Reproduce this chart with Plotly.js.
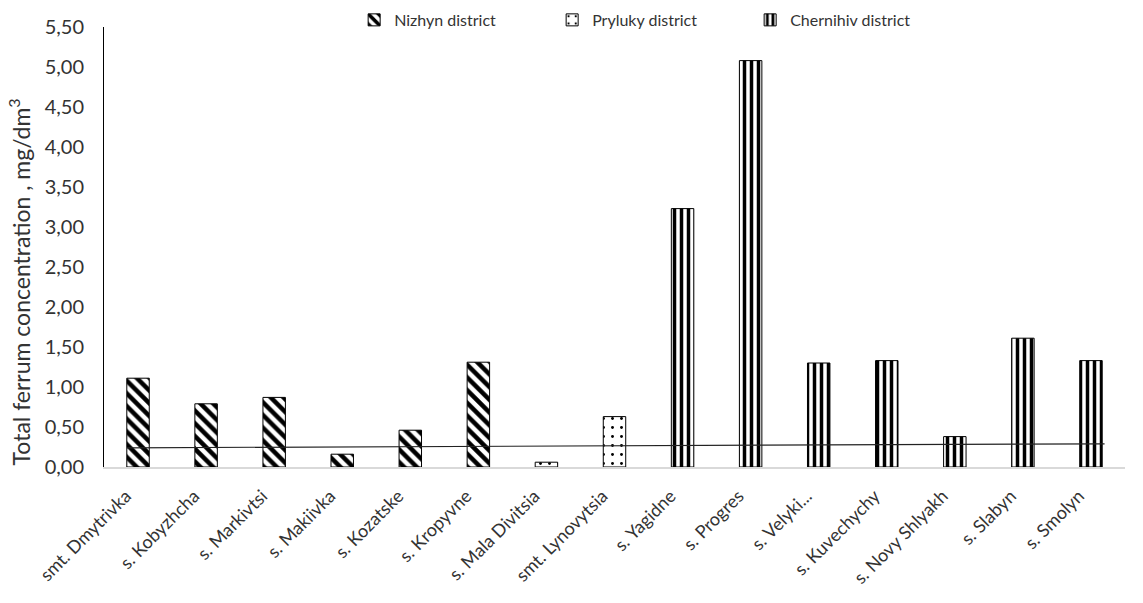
<!DOCTYPE html>
<html>
<head>
<meta charset="utf-8">
<script src="https://cdn.plot.ly/plotly-3.0.1.min.js"></script>
<style>html,body{margin:0;padding:0;background:#fff}#chart{width:1143px;height:603px}</style>
</head>
<body>
<div id="chart"></div>
<script>
// Categories (all settlements, in display order)
const categories = [
  "smt. Dmytrivka", "s. Kobyzhcha", "s. Markivtsi", "s. Makiivka", "s. Kozatske", "s. Kropyvne",
  "s. Mala Divitsia", "smt. Lynovytsia",
  "s. Yagidne", "s. Progres", "s. Velyki...", "s. Kuvechychy", "s. Novy Shlyakh", "s. Slabyn", "s. Smolyn"
];
// Nizhyn district
const nizhynCats = ["smt. Dmytrivka", "s. Kobyzhcha", "s. Markivtsi", "s. Makiivka", "s. Kozatske", "s. Kropyvne"];
const nizhynVals = [1.11, 0.79, 0.87, 0.16, 0.46, 1.31];
// Pryluky district
const prylukyCats = ["s. Mala Divitsia", "smt. Lynovytsia"];
const prylukyVals = [0.06, 0.63];
// Chernihiv district
const chernihivCats = ["s. Yagidne", "s. Progres", "s. Velyki...", "s. Kuvechychy", "s. Novy Shlyakh", "s. Slabyn", "s. Smolyn"];
const chernihivVals = [3.23, 5.08, 1.30, 1.33, 0.38, 1.61, 1.33];
// Reference (limit) line, start and end values
const limitLineVals = [0.24, 0.29];
const yTitle = "Total ferrum concentration , mg/dm<sup>3</sup>";

const font = "Lato, 'Open Sans', sans-serif";
const txt = "#333333";

const traces = [
  {
    type: "bar", name: "Nizhyn district", x: nizhynCats, y: nizhynVals,
    marker: {color: "#ffffff", line: {color: "#000000", width: 1},
      pattern: {shape: "\\", fgcolor: "#000000", bgcolor: "#ffffff", size: 9, solidity: 0.5}},
    width: 0.33
  },
  {
    type: "bar", name: "Pryluky district", x: prylukyCats, y: prylukyVals,
    marker: {color: "#ffffff", line: {color: "#000000", width: 1},
      pattern: {shape: ".", fgcolor: "#000000", bgcolor: "#ffffff", size: 9, solidity: 0.08}},
    width: 0.33
  },
  {
    type: "bar", name: "Chernihiv district", x: chernihivCats, y: chernihivVals,
    marker: {color: "#ffffff", line: {color: "#000000", width: 1},
      pattern: {shape: "|", fgcolor: "#000000", bgcolor: "#ffffff", size: 7, solidity: 0.5}},
    width: 0.33
  }
];

const layout = {
  width: 1143, height: 603,
  margin: {l: 104, r: 18, t: 27, b: 136, autoexpand: false},
  paper_bgcolor: "#ffffff", plot_bgcolor: "#ffffff",
  separators: ", ",
  barmode: "overlay",
  font: {family: font, color: txt, size: 15},
  showlegend: true,
  legend: {
    orientation: "h", x: 0.245, xanchor: "left", y: 1.016, yanchor: "middle",
    entrywidth: 153, entrywidthmode: "pixels",
    font: {family: font, size: 16, color: txt},
    bgcolor: "rgba(0,0,0,0)", traceorder: "normal"
  },
  shapes: [{
    type: "line", xref: "x", yref: "y",
    x0: -0.16, x1: 14.2, y0: limitLineVals[0], y1: limitLineVals[1],
    line: {color: "#222222", width: 1.2}
  }],
  annotations: [{
    text: yTitle, textangle: -90, xref: "paper", yref: "paper",
    x: -0.083, y: 0.42, xanchor: "center", yanchor: "middle", showarrow: false,
    font: {family: font, size: 23, color: txt}
  }],
  xaxis: {
    type: "category", categoryorder: "array", categoryarray: categories,
    range: [-0.5, 14.5],
    tickangle: -45, tickfont: {family: font, size: 18, color: txt},
    ticklabelshift: -12, ticklabelstandoff: 10,
    showline: true, linecolor: "#d9d9d9", linewidth: 1.5,
    showgrid: false, ticks: "", zeroline: false
  },
  yaxis: {
    range: [0, 5.5], dtick: 0.5, tick0: 0, tickformat: ".2f",
    tickfont: {family: font, size: 20, color: txt},
    showline: true, linecolor: "#000000", linewidth: 1,
    showgrid: false, ticks: "", zeroline: false, ticklabelstandoff: 15
  }
};

Plotly.newPlot("chart", traces, layout, {displayModeBar: false, staticPlot: true});
</script>
</body>
</html>
